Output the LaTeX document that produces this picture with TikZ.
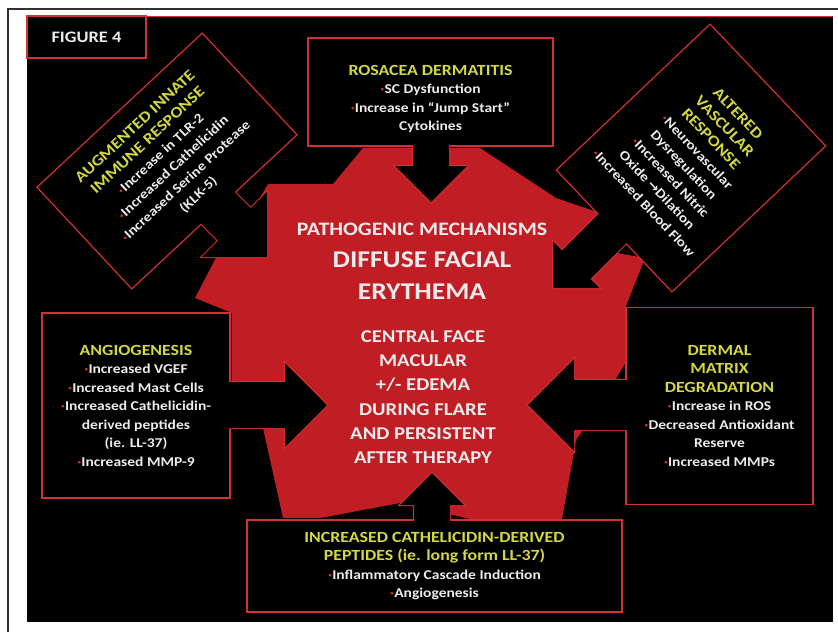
\documentclass[tikz,border=0pt]{standalone}
\usepackage{fontspec}
\setmainfont{Carlito}[FakeStretch=1.15]
\newfontfamily\arrowfont{DejaVu Sans}
\usetikzlibrary{calc,positioning}
\definecolor{panelred}{RGB}{192,30,36}
\definecolor{edgered}{RGB}{210,48,50}
\definecolor{titleyellow}{RGB}{212,216,64}
\definecolor{textwhite}{RGB}{236,236,236}
\definecolor{framegray}{RGB}{50,50,50}
\newcommand{\itm}{{\color{edgered}\textperiodcentered}}
\newcommand{\hd}[1]{{\color{titleyellow}\fontsize{15.5}{18.5}\selectfont #1}}
\newcommand{\arrowpoly}[4]{($(#1)!#3!90:(#2)$) -- ($(#2b)!#3!90:(#2)$) -- ($(#2b)!#4!90:(#2)$) -- (#2) -- ($(#2b)!#4!-90:(#2)$) -- ($(#2b)!#3!-90:(#2)$) -- ($(#1)!#3!-90:(#2)$) -- cycle}
\newcommand{\blockarrow}[4]{%
  \coordinate (#2b) at ($(#2)!#4!(#1)$);
  \draw[arrowline] \arrowpoly{#1}{#2}{#3}{#4};}
\newcommand{\arrowfill}[4]{\fill[black] \arrowpoly{#1}{#2}{#3}{#4};}

\begin{document}
\begin{tikzpicture}[x=1pt,y=1pt,
    box/.style={draw=edgered,line width=1.2pt,fill=black,text=textwhite,align=center,inner sep=2pt,
      font=\bfseries\fontsize{13.5}{18.5}\selectfont},
    arrowline/.style={draw=edgered,line width=2.4pt,fill=black},
    bigtext/.style={text=textwhite,align=center}]
  \useasboundingbox (0,0) rectangle (838,-632);
  \fill[white] (0,0) rectangle (838,-632);
  \draw[framegray,line width=2pt] (8,-632) -- (8,-9) -- (838,-9);
  \fill[black] (27,-16) rectangle (833,-622);
  \draw[edgered,line width=1pt] (27,-16.5) -- (833,-16.5);

  \fill[panelred] (363,-148) -- (480,-148) -- (556,-198) -- (600,-213) -- (600,-250)
    -- (645,-258) -- (626,-306) -- (626,-362) -- (600,-405) -- (576,-440) -- (574,-452)
    -- (562,-519) -- (470,-519) -- (440,-512) -- (400,-503) -- (320,-518) -- (283,-518)
    -- (263,-428) -- (250,-405) -- (232,-380) -- (232,-313) -- (195,-298) -- (220,-250)
    -- (250,-215) -- (268,-184) -- (333,-184) -- cycle;

  \node[bigtext,font=\bfseries\fontsize{19}{32}\selectfont] (mech) at (422,-261)
    {PATHOGENIC MECHANISMS\\{\fontsize{24}{32}\selectfont DIFFUSE FACIAL}\\{\fontsize{24}{32}\selectfont ERYTHEMA}};
  \node[bigtext,font=\bfseries\fontsize{18}{24.2}\selectfont] (sign) at (423,-397)
    {CENTRAL FACE\\MACULAR\\+/- EDEMA\\DURING FLARE\\AND PERSISTENT\\AFTER THERAPY};

  \node[box,minimum width=119pt,minimum height=42pt] (fig) at (86.5,-37)
    {\fontsize{16}{18}\selectfont FIGURE 4};

  \coordinate (rosfrom) at (431,-140);
  \coordinate (rosto) at (431,-202);
  \blockarrow{rosfrom}{rosto}{18pt}{36pt}
  \node[box,minimum width=245pt,minimum height=108pt] (ros) at (430.5,-92)
    {\rule{0pt}{24pt}\hd{ROSACEA DERMATITIS}\\\itm SC Dysfunction\\\itm Increase in “Jump Start”\\Cytokines};
  \arrowfill{rosfrom}{rosto}{18pt}{36pt}

  \coordinate (augfrom) at (214,-204);
  \coordinate (augto) at (267,-257);
  \blockarrow{augfrom}{augto}{23pt}{46pt}
  \node[box,rotate=43,minimum width=226pt,minimum height=139pt] (aug) at (167,-161)
    {\hd{AUGMENTED INNATE}\\\hd{IMMUNE RESPONSE}\\\itm Increase in TLR-2\\\itm Increased Cathelicidin\\\itm Increased Serine Protease\\(KLK-5)};
  \arrowfill{augfrom}{augto}{23pt}{46pt}

  \coordinate (altfrom) at (616,-225);
  \coordinate (alto) at (553,-288);
  \blockarrow{altfrom}{alto}{20pt}{33pt}
  \node[box,rotate=-46.5,minimum width=168pt,minimum height=212pt] (alt) at (691,-158)
    {\hd{ALTERED}\\\hd{VASCULAR}\\\hd{RESPONSE}\\\itm Neurovascular\\Dysregulation\\\itm Increased Nitric\\Oxide {\arrowfont →}Dilation\\\itm Increased Blood Flow};
  \arrowfill{altfrom}{alto}{20pt}{33pt}

  \coordinate (angfrom) at (224,-405);
  \coordinate (angto) at (327,-405);
  \blockarrow{angfrom}{angto}{23pt}{42pt}
  \node[box,minimum width=188pt,minimum height=185pt] (ang) at (136,-405.5)
    {\hd{ANGIOGENESIS}\\\itm Increased VGEF\\\itm Increased Mast Cells\\\itm Increased Cathelicidin-\\derived peptides\\(ie. LL-37)\\\itm Increased MMP-9};
  \arrowfill{angfrom}{angto}{23pt}{42pt}

  \coordinate (derfrom) at (632,-405);
  \coordinate (derto) at (528,-405);
  \blockarrow{derfrom}{derto}{25pt}{46pt}
  \node[box,minimum width=187pt,minimum height=197pt] (der) at (719.5,-406)
    {\hd{DERMAL}\\\hd{MATRIX}\\\hd{DEGRADATION}\\\itm Increase in ROS\\\itm Decreased Antioxidant\\Reserve\\\itm Increased MMPs};
  \arrowfill{derfrom}{derto}{25pt}{46pt}

  \coordinate (catfrom) at (432,-526);
  \coordinate (catto) at (432,-473);
  \blockarrow{catfrom}{catto}{18pt}{32pt}
  \node[box,minimum width=375pt,minimum height=92pt] (cat) at (434.5,-566)
    {\hd{INCREASED CATHELICIDIN-DERIVED}\\\hd{PEPTIDES (ie. long form LL-37)}\\\itm Inflammatory Cascade Induction\\\itm Angiogenesis};
  \arrowfill{catfrom}{catto}{18pt}{32pt}
\end{tikzpicture}
\end{document}
